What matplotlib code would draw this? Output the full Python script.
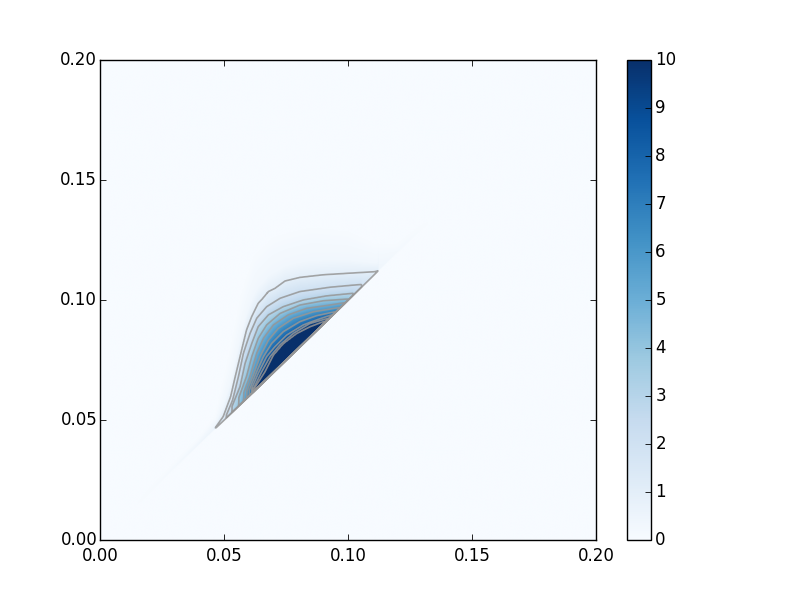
import numpy as np
import matplotlib
matplotlib.use("Agg")
import matplotlib.pyplot as plt
from matplotlib.transforms import ScaledTranslation

# Contour curves: x and y of each level
level_1_x = [.0458, .0470, .0497, .0527, .0544, .0565, .0591, .0612, .0638, .0655, .0679, .0705, .0746, .0806, .0901, .1109, .1120]
level_1_y = [.0460, .0475, .0514, .0597, .0674, .0764, .0875, .0931, .0986, .1005, .1035, .1048, .1079, .1094, .1105, .1118, .1121]
level_2_x = [.0508, .0535, .0558, .0578, .0605, .0632, .0672, .0726, .0806, .0927, .1055]
level_2_y = [.0518, .0583, .0680, .0778, .0861, .0924, .0972, .1007, .1035, .1053, .1065]
level_3_x = [.0531, .0565, .0585, .0612, .0638, .0679, .0739, .0820, .0914, .1022]
level_3_y = [.0556, .0639, .0736, .0819, .0889, .0938, .0972, .1000, .1017, .1028]
level_4_x = [.0558, .0591, .0612, .0638, .0672, .0726, .0806, .0901, .1001]
level_4_y = [.0590, .0681, .0764, .0840, .0896, .0944, .0979, .0997, .1004]
level_5_x = [.0578, .0605, .0632, .0659, .0699, .0759, .0833, .0927, .0988]
level_5_y = [.0611, .0681, .0778, .0840, .0896, .0938, .0965, .0979, .0989]
level_6_x = [.0591, .0618, .0645, .0679, .0719, .0780, .0860, .0968]
level_6_y = [.0618, .0687, .0764, .0833, .0882, .0924, .0951, .0969]
level_7_x = [.0602, .0632, .0659, .0692, .0739, .0806, .0874, .0948]
level_7_y = [.0625, .0701, .0764, .0819, .0868, .0910, .0935, .0951]
level_8_x = [.0612, .0638, .0672, .0706, .0753, .0820, .0880, .0934]
level_8_y = [.0632, .0694, .0764, .0806, .0854, .0896, .0919, .0938]
level_9_x = [.0618, .0652, .0686, .0726, .0780, .0847, .0921]
level_9_y = [.0628, .0701, .0764, .0813, .0861, .0903, .0924]
level_10_x = [.0618, .0665, .0699, .0739, .0793, .0847, .0901]
level_10_y = [.0625, .0701, .0771, .0819, .0861, .0889, .0910]

curves = [
    (1, level_1_x, level_1_y), (2, level_2_x, level_2_y), (3, level_3_x, level_3_y),
    (4, level_4_x, level_4_y), (5, level_5_x, level_5_y), (6, level_6_x, level_6_y),
    (7, level_7_x, level_7_y), (8, level_8_x, level_8_y), (9, level_9_x, level_9_y),
    (10, level_10_x, level_10_y),
]

# Value along the diagonal edge of the wedge
ridge_x = [.012, .030, .0456, .0470, .0508, .0531, .0558, .0578, .0591, .0602, .0612, .0618, .0901, .0921, .0934, .0948, .0968, .0988, .1001, .1022, .1055, .1120, .1125, .120, .135]
ridge_v = [0.0, 0.2, 0.5, 1.2, 2.0, 3.0, 4.0, 5.0, 6.0, 7.0, 8.0, 11.0, 11.0, 9.0, 8.0, 7.0, 6.0, 5.0, 4.0, 3.0, 2.0, 1.1, 0.4, 0.2, 0.0]
# Upper reach of the faint halo above the outer contour
halo_x = [.012, .040, .0465, .052, .057, .062, .070, .085, .100, .1112, .120, .135]
halo_y = [.014, .043, .052, .078, .104, .120, .128, .132, .130, .124, .124, .137]
tail_share = 0.3
tail_value = 0.3

levels = [1, 2, 3, 4, 5, 6, 7, 8, 9, 10]
tick_x = [0.00, 0.05, 0.10, 0.15, 0.20]
tick_cbar = [0, 1, 2, 3, 4, 5, 6, 7, 8, 9, 10]

grid = np.linspace(0, 0.2, 801)
field = np.zeros((grid.size, grid.size))
for i, x in enumerate(grid):
    peak = np.interp(x, ridge_x, ridge_v, left=0, right=0)
    if peak <= 0:
        continue
    ys, vs = [x], [peak]
    for lev, cx, cy in reversed(curves):
        if cx[0] <= x <= cx[-1]:
            yl = float(np.interp(x, cx, cy))
            if yl > ys[-1]:
                ys.append(yl)
                vs.append(lev)
    top = max(float(np.interp(x, halo_x, halo_y)), ys[-1] + 0.002)
    if vs[-1] >= 1:
        ys.append(ys[-1] + tail_share * (top - ys[-1]))
        vs.append(tail_value)
    ys.append(top)
    vs.append(0.0)
    col = np.interp(grid, ys, vs, left=0, right=0)
    col[grid < x] = 0
    field[:, i] = col

fig = plt.figure(figsize=(8, 6), dpi=100)
ax = fig.add_axes([0.125, 0.1, 0.62, 0.8])
im = ax.imshow(field, origin="lower", extent=(0, 0.2, 0, 0.2), aspect="auto",
               cmap="Blues", vmin=0, vmax=10, interpolation="bilinear")
ax.contour(grid, grid, field, levels=levels, colors="#969696", alpha=0.85, linewidths=1.2)
ax.set_xlim(0, 0.2)
ax.set_ylim(0, 0.2)
ax.set_xticks(tick_x)
ax.set_yticks(tick_x)
ax.set_xticklabels([f"{t:.2f}" for t in tick_x])
ax.set_yticklabels([f"{t:.2f}" for t in tick_x])
ax.tick_params(direction="in", top=True, right=True, length=4, width=0.6, labelsize=12)
ax.tick_params(axis="x", pad=5)
ax.tick_params(axis="y", pad=2)
for s in ax.spines.values():
    s.set_linewidth(1.0)

cax = fig.add_axes([0.784, 0.1, 0.030, 0.8])
cb = fig.colorbar(im, cax=cax)
cb.set_ticks(tick_cbar)
cb.ax.tick_params(direction="in", length=4, width=0.6, labelsize=12, pad=3)
cb.outline.set_linewidth(1.0)

# Side labels sit about a pixel higher in the reference
lift = ScaledTranslation(0, 1.5 / 72, fig.dpi_scale_trans)
for lab in list(ax.get_yticklabels()) + list(cb.ax.get_yticklabels()):
    lab.set_transform(lab.get_transform() + lift)

fig.savefig("out.png", dpi=100)
